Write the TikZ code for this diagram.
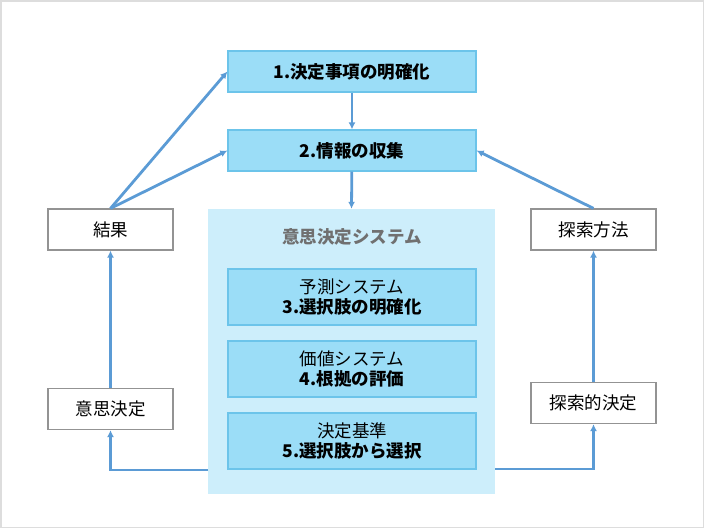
\documentclass[tikz,border=0pt]{standalone}
\usepackage{fontspec}
\setmainfont{Noto Sans CJK JP}
\usepackage{xcolor}
\usepackage{tikz}
\usetikzlibrary{arrows.meta}

\definecolor{lineblue}{HTML}{5B9BD5}
\definecolor{stepfill}{HTML}{9BDDF7}
\definecolor{stepedge}{HTML}{6CC4EA}
\definecolor{sysfill}{HTML}{CDEEFB}
\definecolor{framegray}{HTML}{DDDDDD}
\definecolor{boxgray}{HTML}{939393}
\definecolor{titlegray}{HTML}{707070}
\newcommand{\diagfont}{\fontsize{17.5}{20.5}\selectfont}

\tikzset{
  stepbox/.style={draw=stepedge, fill=stepfill, line width=1.2pt, minimum width=248pt,
    align=center, inner sep=0pt, font=\diagfont},
  outbox/.style={draw=boxgray, fill=white, line width=1.2pt, minimum width=125pt,
    minimum height=41pt, inner sep=0pt, font=\diagfont}
}

\begin{document}
\begin{tikzpicture}[x=1pt, y=-1pt, >={Latex[length=7pt,width=7pt]}]
		\useasboundingbox (0,0) rectangle (704,528);
		\draw[framegray, line width=1.5pt] (0.75,0.75) rectangle (703.25,527.25);
		%
		\node[fill=sysfill, minimum width=287pt, minimum height=285pt, inner sep=0pt] (S) at (351.5,351.5) {};
		\node[text=titlegray, font=\diagfont\bfseries] (T) at (352,237) {意思決定システム};
		%
		\node[stepbox, minimum height=41pt, font=\diagfont\bfseries] (D1) at (352,71.5) {1.決定事項の明確化};
		\node[stepbox, minimum height=41pt, font=\diagfont\bfseries] (D2) at (352,150.5) {2.情報の収集};
		\node[stepbox, minimum height=56pt] (D3) at (352,297) {予測システム\\\textbf{3.選択肢の明確化}};
		\node[stepbox, minimum height=56pt] (D4) at (352,369) {価値システム\\\textbf{4.根拠の評価}};
		\node[stepbox, minimum height=56pt] (D5) at (352,441) {決定基準\\\textbf{5.選択肢から選択}};
		%
		\node[outbox] (R) at (110.5,229.5) {結果};
		\node[outbox] (DM) at (110.5,409) {意思決定};
		\node[outbox] (M) at (593.5,229.5) {探索方法};
		\node[outbox] (ED) at (593.5,403) {探索的決定};
		%
		\coordinate (SL) at (208,470);
		\coordinate (SR) at (495,469);
		%
		\path[->, lineblue, line width=2.8pt]
		(D1) edge (D2)
		(D2) edge (S.north)
		(R.north) edge (D1.west)
		(R.north) edge (D2.west)
		(M.north) edge (D2.east)
		(DM) edge (R)
		(ED) edge (M);
		\draw[->, lineblue, line width=2.8pt] (SL) -| (DM.south);
		\draw[->, lineblue, line width=2.8pt] (SR) -| (ED.south);
		\end{tikzpicture}
\end{document}
